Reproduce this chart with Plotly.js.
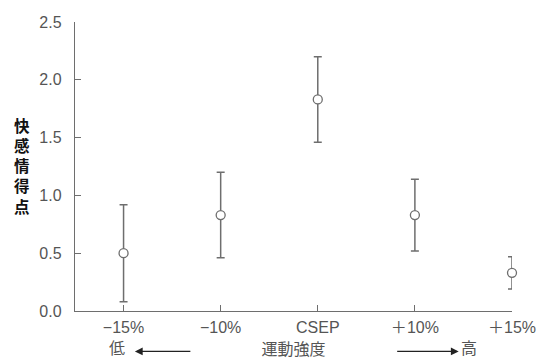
<!DOCTYPE html>
<html>
<head>
<meta charset="utf-8">
<script src="https://cdn.plot.ly/plotly-3.0.1.min.js"></script>
<style>html,body{margin:0;padding:0;background:#fff;}#chart{width:537px;height:363px;}</style>
</head>
<body>
<div id="chart"></div>
<script>
const categories = ["−15%", "−10%", "CSEP", "＋10%", "＋15%"];
const means = [0.50, 0.83, 1.83, 0.83, 0.33];
const errors = [0.42, 0.37, 0.37, 0.31, 0.14];
const yTicks = [0, 0.5, 1.0, 1.5, 2.0, 2.5];
const yTickLabels = ["0.0", "0.5", "1.0", "1.5", "2.0", "2.5"];
const yTitle = "快感情得点";
const xTitle = "運動強度";
const lowLabel = "低";
const highLabel = "高";

const gray = "#6e6e6e";
const textGray = "#555";
const latin = "Liberation Sans, Arial, sans-serif";
const cjk = "Noto Sans CJK JP, sans-serif";

const idx = categories.map((c, i) => i);
const tickText = categories.map(c => c.replace("＋", "<span style='font-family:Noto Sans CJK JP'>＋</span>"));

const trace = {
  x: idx,
  y: means,
  type: "scatter",
  mode: "markers",
  cliponaxis: false,
  marker: {symbol: "circle", size: 9, color: "#fff", line: {color: gray, width: 1.3}},
  error_y: {type: "data", array: errors, visible: true, color: gray, thickness: 1.5, width: 4},
  hoverinfo: "skip"
};

const layout = {
  width: 537, height: 363,
  margin: {l: 75, r: 25, t: 22, b: 52},
  paper_bgcolor: "#fff",
  plot_bgcolor: "#fff",
  showlegend: false,
  xaxis: {
    range: [-0.5, 4],
    tickmode: "array",
    tickvals: idx,
    ticktext: tickText,
    showgrid: false, zeroline: false,
    showline: true, linecolor: gray, linewidth: 1.2,
    ticks: "inside", ticklen: 6, tickcolor: gray, tickwidth: 1.2,
    tickfont: {family: latin, size: 16, color: textGray},
    ticklabelstandoff: 2,
    title: {text: xTitle, font: {family: cjk, size: 16, color: textGray}, standoff: 6}
  },
  yaxis: {
    range: [0, 2.5],
    tickmode: "array",
    tickvals: yTicks,
    ticktext: yTickLabels,
    showgrid: false, zeroline: false,
    showline: true, linecolor: gray, linewidth: 1.2,
    ticks: "inside", ticklen: 6, tickcolor: gray, tickwidth: 1.2,
    tickfont: {family: latin, size: 16, color: textGray},
    ticklabelstandoff: 9
  },
  annotations: [
    {
      text: yTitle.split("").join("<br>"),
      xref: "paper", yref: "paper", x: -0.122, y: 0.505,
      xanchor: "center", yanchor: "middle", showarrow: false,
      font: {family: cjk, size: 15.5, color: "#111", weight: "bold"}
    },
    {
      text: lowLabel, xref: "paper", yref: "paper", x: 0.097, y: -0.172,
      xanchor: "center", yanchor: "bottom", showarrow: false,
      font: {family: cjk, size: 16, color: textGray}
    },
    {
      text: highLabel, xref: "paper", yref: "paper", x: 0.901, y: -0.172,
      xanchor: "center", yanchor: "bottom", showarrow: false,
      font: {family: cjk, size: 16, color: textGray}
    },
    {
      text: "", xref: "paper", yref: "paper", x: 0.137, y: -0.14,
      showarrow: true, ax: 57, ay: 0, arrowhead: 2, arrowsize: 1.2, arrowwidth: 1.3, arrowcolor: "#222"
    },
    {
      text: "", xref: "paper", yref: "paper", x: 0.878, y: -0.14,
      showarrow: true, ax: -63, ay: 0, arrowhead: 2, arrowsize: 1.2, arrowwidth: 1.3, arrowcolor: "#222"
    }
  ]
};

Plotly.newPlot("chart", [trace], layout, {displayModeBar: false, staticPlot: true});
</script>
</body>
</html>
